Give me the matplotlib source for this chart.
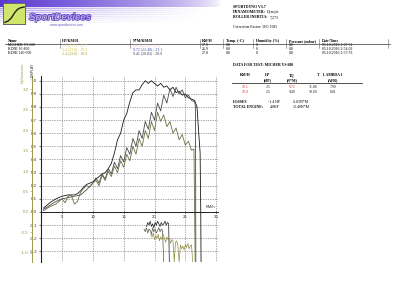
import numpy as np
import matplotlib
matplotlib.use('Agg')
import matplotlib.pyplot as plt
from matplotlib import patheffects as pe
from matplotlib.lines import Line2D
from matplotlib.patches import Rectangle

# ---------------- data ----------------
run_names = ["MICHER VS 600", "KDNI 16-830", "KDNI 140-900"]
hp_text = ["2.5 (23.5) : 18.7", "2.4 (23.9) : 19.1", "2.4 (23.8) : 18.9"]
nm_text = ["10.0 (22.2) : 23.1", "9.72 (22.49) : 23.1", "9.41 (20.83) : 20.9"]
kmh_max = ["27.9", "26.9", "27.0"]
temps = ["0.0", "0.0", "0.0"]
humid = ["0", "0", "0"]
press = ["0.0", "0.0", "0.0"]
dates = ["05.10.2016 2:07:51", "05.10.2016 2:54:02", "05.10.2016 2:57:33"]

x_ticks = [5, 10, 15, 20, 25, 30]
display_ticks = [-0.3, -0.2, -0.1, 0.0, 0.1, 0.2, 0.3, 0.4, 0.5, 0.6, 0.7, 0.8, 0.9, 1.0]
hp_ticks = [-1.0, -0.5, 0.0, 0.5, 1.0, 1.5, 2.0, 2.5, 3.0]

c1_x = [2.0, 3, 4, 5, 6, 7, 7.5, 8, 8.5, 9, 9.5, 10, 10.5, 11, 11.5, 12, 12.5, 13, 13.5, 14,
        14.5, 15, 15.5, 16, 16.5, 17, 17.5, 18, 18.5, 19, 19.5, 20, 20.5, 21, 21.5, 22, 22.5,
        23, 23.5, 24, 24.5, 25, 25.5, 26, 26.5, 26.9, 27.1, 27.4, 27.5, 27.55]
c1_y = [0.03, 0.07, 0.10, 0.12, 0.13, 0.13, 0.14, 0.16, 0.19, 0.21, 0.22, 0.23, 0.25, 0.27,
        0.29, 0.30, 0.33, 0.37, 0.45, 0.55, 0.60, 0.70, 0.75, 0.84, 0.91, 0.93, 0.93, 0.97,
        1.00, 0.98, 1.00, 0.98, 0.96, 0.98, 0.95, 0.96, 0.93, 0.95, 0.91, 0.92, 0.89, 0.90,
        0.87, 0.86, 0.85, 0.80, 0.65, 0.45, 0.0, -0.38]

c2_x = [2.0, 3, 4, 5, 6, 7, 8, 9, 10, 10.5, 11, 11.5, 12, 12.5, 13, 13.5, 14, 14.5, 15, 15.5,
        16, 16.5, 17, 17.5, 18, 18.5, 19, 19.5, 20, 20.5, 21, 21.5, 22, 22.5, 23, 23.5, 24,
        24.5, 25, 25.5, 26, 26.5, 26.65, 26.7]
c2_y = [0.02, 0.05, 0.08, 0.10, 0.11, 0.12, 0.13, 0.17, 0.22, 0.26, 0.22, 0.29, 0.25, 0.33,
        0.29, 0.38, 0.33, 0.43, 0.38, 0.49, 0.44, 0.56, 0.50, 0.62, 0.56, 0.69, 0.63, 0.76,
        0.70, 0.83, 0.77, 0.89, 0.83, 0.94, 0.88, 0.95, 0.90, 0.93, 0.87, 0.89, 0.85, 0.84,
        0.80, -0.38]

c3_x = [2.0, 3, 4, 5, 5.5, 6, 6.5, 7, 7.5, 8, 8.5, 9, 9.5, 10, 10.5, 11, 11.5, 12, 12.5, 13,
        13.5, 14, 14.5, 15, 15.5, 16, 16.5, 17, 17.5, 18, 18.5, 19, 19.5, 20, 20.5, 21, 21.5,
        22, 22.5, 23, 23.5, 24, 24.5, 25, 25.5, 26, 26.4, 26.6]
c3_y = [0.01, 0.04, 0.06, 0.10, 0.07, 0.12, 0.13, 0.06, 0.08, 0.15, 0.18, 0.20, 0.19, 0.22,
        0.24, 0.20, 0.28, 0.24, 0.31, 0.27, 0.35, 0.30, 0.39, 0.34, 0.44, 0.39, 0.50, 0.44,
        0.56, 0.50, 0.62, 0.56, 0.69, 0.62, 0.76, 0.69, 0.74, 0.65, 0.69, 0.60, 0.64, 0.55,
        0.59, 0.51, 0.54, 0.47, 0.48, -0.38]

l1_x = [18.7, 18.9, 19.1, 19.3, 19.5, 19.7, 19.9, 20.1, 20.3, 20.5, 20.7, 20.9, 21.1, 21.3,
        21.5, 21.7, 21.9, 22.1, 22.3, 22.4]
l1_y = [-0.11, -0.08, -0.10, -0.07, -0.11, -0.09, -0.12, -0.08, -0.10, -0.07, -0.09, -0.11,
        -0.08, -0.10, -0.09, -0.07, -0.10, -0.08, -0.09, -0.38]

l2_x = [18.3, 18.5, 18.7, 18.9, 19.1, 19.3, 19.5, 19.7, 19.9, 20.1, 20.3, 20.5, 20.7, 20.9,
        21.1, 21.3, 21.5]
l2_y = [-0.13, -0.15, -0.12, -0.16, -0.13, -0.14, -0.17, -0.12, -0.15, -0.13, -0.16, -0.14,
        -0.12, -0.15, -0.13, -0.14, -0.38]

l3_x = [19.4, 19.6, 19.8, 20.0, 20.2, 20.4, 20.6, 20.8, 21.0, 21.2, 21.4, 21.6, 21.8, 22.0,
        22.2, 22.4, 22.6, 22.8, 23.0, 23.2, 23.4, 23.6, 23.8, 24.0, 24.2, 24.4, 24.6, 24.8,
        25.0, 25.2, 25.4, 25.6, 25.8, 26.0, 26.2]
l3_y = [-0.17, -0.19, -0.16, -0.21, -0.18, -0.20, -0.17, -0.22, -0.19, -0.21, -0.17, -0.20,
        -0.23, -0.19, -0.21, -0.20, -0.24, -0.21, -0.22, -0.38, -0.23, -0.22, -0.26, -0.38,
        -0.25, -0.28, -0.26, -0.29, -0.25, -0.27, -0.24, -0.28, -0.26, -0.25, -0.38]

# ---------------- figure ----------------
W, H = 400, 282
fig = plt.figure(figsize=(4, 2.82), dpi=100)
fig.patch.set_facecolor('white')

def fx(px):
    return px / W

def fy(py):
    return 1 - py / H

serif = 'Liberation Serif'
sans = 'Liberation Sans'
FS = 2.8

# banner gradient
bax = fig.add_axes([0, fy(25), 230 / W, 25 / H])
img = np.ones((25, 230, 4))
img[..., 0] = 0.36
img[..., 1] = 0.22
img[..., 2] = 0.82
xs = np.arange(230)
alpha = np.zeros((25, 230))
for r in range(25):
    if r < 7:
        a = np.clip(1 - xs / 220, 0, 1) ** 0.6
    else:
        a = np.clip(1 - xs / 205, 0, 1) * (0.55 if r % 2 == 0 else 0.2) * max(0, 1 - (r - 7) / 17)
    alpha[r] = a
img[..., 3] = alpha
bax.imshow(img, aspect='auto', interpolation='bilinear')
bax.axis('off')

# logo square
lax = fig.add_axes([fx(3), fy(25), 23 / W, 22 / H])
lax.set_xlim(0, 1)
lax.set_ylim(0, 1)
lax.add_patch(Rectangle((0, 0), 1, 1, facecolor='#cfe56c', edgecolor='#555566', lw=1.2))
lax.plot([0.08, 0.22, 0.36, 0.5, 0.62, 0.75, 0.92], [0.12, 0.18, 0.32, 0.55, 0.7, 0.78, 0.82],
         color='#222222', lw=1.0)
lax.axis('off')

t = fig.text(fx(29), fy(17), 'SportDevices', fontsize=7, fontfamily=sans, fontweight='bold',
             fontstyle='italic', color='#b8a8f0', va='center', ha='left')
t.set_path_effects([pe.Stroke(linewidth=1.0, foreground='#5a3cb8'), pe.Normal()])
fig.text(fx(50), fy(25), 'www.sportdevices.com', fontsize=2.3, fontfamily=sans,
         color='#6a50c0', va='center', ha='left')

# header text right
fig.text(fx(233), fy(6.7), 'SPORTDYNO V3.7', fontsize=FS, fontfamily=serif, fontweight='bold', va='center')
fig.text(fx(233), fy(12.3), 'DYNAMOMETER:', fontsize=FS, fontfamily=serif, fontweight='bold', va='center')
fig.text(fx(267), fy(12.3), 'Dynojet', fontsize=FS, fontfamily=serif, va='center')
fig.text(fx(233), fy(17.5), 'ROLLER INERTIA:', fontsize=FS, fontfamily=serif, fontweight='bold', va='center')
fig.text(fx(270), fy(17.5), '7,273', fontsize=FS, fontfamily=serif, va='center')
fig.text(fx(233), fy(27), 'Correction Factor: ISO 1585', fontsize=FS, fontfamily=serif, va='center')

# runs table
cols_x = [8, 62, 133, 202, 226, 256, 289, 322]
headers = ['Name', 'HP/KM/H', 'N*M/KM/H', 'KM/H', 'Temp. (ºC)', 'Humidity (%)', 'Pressure (mbar)', 'Date/Time']
for cx, h in zip(cols_x, headers):
    fig.text(fx(cx), fy(41.3), h, fontsize=FS, fontfamily=serif, fontweight='bold', va='center')
fig.add_artist(Line2D([fx(5), fx(390)], [fy(43.8), fy(43.8)], color='#333333', lw=0.5))
for sx in [60, 130, 200, 223, 253, 286, 319, 388]:
    fig.add_artist(Line2D([fx(sx), fx(sx)], [fy(39), fy(48)], color='#666666', lw=0.4))
hp_cols = ['#e3da92', '#d8c428', '#a39434']
nm_cols = ['#e8b4cc', '#3440a4', '#33334d']
row_y = [45.5, 49.5, 53.5]
for i in range(3):
    yy = fy(row_y[i])
    fig.text(fx(cols_x[0]), yy, run_names[i], fontsize=FS, fontfamily=serif, va='center')
    fig.text(fx(cols_x[1]), yy, hp_text[i], fontsize=FS, fontfamily=serif, va='center', color=hp_cols[i])
    fig.text(fx(cols_x[2]), yy, nm_text[i], fontsize=FS, fontfamily=serif, va='center', color=nm_cols[i])
    fig.text(fx(cols_x[3]), yy, kmh_max[i], fontsize=FS, fontfamily=serif, va='center')
    fig.text(fx(cols_x[4]), yy, temps[i], fontsize=FS, fontfamily=serif, va='center')
    fig.text(fx(cols_x[5]), yy, humid[i], fontsize=FS, fontfamily=serif, va='center')
    fig.text(fx(cols_x[6]), yy, press[i], fontsize=FS, fontfamily=serif, va='center')
    fig.text(fx(cols_x[7]), yy, dates[i], fontsize=FS, fontfamily=serif, va='center')

# data for test table
fig.text(fx(233), fy(65), 'DATA FOR TEST: MICHER VS 600', fontsize=FS, fontfamily=serif,
         fontweight='bold', va='center')
for cx, a, b in [(245, 'KM/H', ''), (268, 'HP', '(HP)'), (292, 'TQ', '(N*M)'), (333, 'LAMBDA 1', '(AFR)')]:
    fig.text(fx(cx), fy(75.5), a, fontsize=FS, fontfamily=serif, fontweight='bold', ha='center', va='center')
    if b:
        fig.text(fx(cx), fy(80), b, fontsize=FS, fontfamily=serif, fontweight='bold', ha='center', va='center')
fig.text(fx(318), fy(75.5), 'T', fontsize=FS, fontfamily=serif, fontweight='bold', ha='center', va='center')
fig.add_artist(Line2D([fx(232), fx(362)], [fy(83), fy(83)], color='#333333', lw=0.6))
test_rows = [["23.1", "2.5", "9.72", "11.88", "7.99"], ["23.9", "2.5", "9.49", "10.00", "8.01"]]
test_cols = [['#c03030', '#222222', '#c03030', '#222222', '#222222'],
             ['#c03030', '#222222', '#222222', '#222222', '#222222']]
for r, (vals, cl) in enumerate(zip(test_rows, test_cols)):
    yy = fy(87.5 + 4.5 * r)
    for cx, v, c in zip([245, 268, 292, 313, 333], vals, cl):
        fig.text(fx(cx), yy, v, fontsize=FS, fontfamily=serif, ha='center', va='center', color=c)
fig.text(fx(233), fy(102), 'LOSSES', fontsize=FS, fontfamily=serif, fontweight='bold', va='center')
fig.text(fx(268), fy(102), '-1.4 HP', fontsize=FS, fontfamily=serif, va='center')
fig.text(fx(293), fy(102), '-2.83N*M', fontsize=FS, fontfamily=serif, va='center')
fig.text(fx(233), fy(107), 'TOTAL ENGINE:', fontsize=FS, fontfamily=serif, fontweight='bold', va='center')
fig.text(fx(270), fy(107), '4.0HP', fontsize=FS, fontfamily=serif, va='center')
fig.text(fx(293), fy(107), '12.40N*M', fontsize=FS, fontfamily=serif, va='center')

# ---------------- main chart ----------------
y_bot, y_top = -0.381, 1.036
ax = fig.add_axes([fx(40.7), fy(262), (218 - 40.7) / W, (262 - 76) / H])
ax.set_xlim(1.54, 30.3)
ax.set_ylim(y_bot, y_top)
ax.set_facecolor('none')
ax.set_xticks(x_ticks)
ax.set_yticks(display_ticks)
ax.set_yticklabels([f'{v:.1f}' for v in display_ticks])
ax.grid(True, linestyle=(0, (1, 1.5)), color='#555555', lw=0.5)
for s in ['top', 'right']:
    ax.spines[s].set_visible(False)
ax.spines['left'].set_color('#222222')
ax.spines['left'].set_linewidth(0.8)
ax.spines['bottom'].set_position(('data', 0))
ax.spines['bottom'].set_color('#222222')
ax.spines['bottom'].set_linewidth(0.7)
ax.tick_params(axis='x', labelsize=3.2, length=2, width=0.5, pad=1, direction='inout', colors='#333333')
ax.tick_params(axis='y', labelsize=3.2, length=1.5, width=0.5, pad=1, colors='#333333')
for lab in ax.get_xticklabels() + ax.get_yticklabels():
    lab.set_fontfamily(sans)

ax.plot(c1_x, c1_y, color='#1a1a1a', lw=0.6)
ax.plot(c2_x, c2_y, color='#4a4a44', lw=0.6)
ax.plot(c3_x, c3_y, color='#6e6e48', lw=0.6)
ax.plot(l1_x, l1_y, color='#1a1a1a', lw=0.5)
ax.plot(l2_x, l2_y, color='#55554a', lw=0.5)
ax.plot(l3_x, l3_y, color='#8e8e40', lw=0.5)
ax.text(29.0, 0.035, 'KM/h', fontsize=3.0, fontfamily=sans, ha='center', va='center', color='#333333')

# hp axis
k = 131.3 / 41.0
ax2 = fig.add_axes(ax.get_position())
ax2.set_facecolor('none')
ax2.set_ylim(y_bot * k, y_top * k)
ax2.set_xticks([])
ax2.set_yticks(hp_ticks)
ax2.set_yticklabels([f'{v:.1f}' for v in hp_ticks])
for s in ['top', 'right', 'bottom']:
    ax2.spines[s].set_visible(False)
ax2.spines['left'].set_position(('outward', 6.5))
ax2.spines['left'].set_color('#9a9a48')
ax2.spines['left'].set_linewidth(0.7)
ax2.tick_params(axis='y', labelsize=3.2, length=1.2, width=0.4, pad=1, colors='#9a9a48')
for lab in ax2.get_yticklabels():
    lab.set_fontfamily(sans)

fig.text(fx(22.7), fy(73), 'Hp/measure', fontsize=2.7, fontfamily=sans, rotation=90,
         color='#9a9a48', ha='center', va='center')
fig.text(fx(33), fy(70), 'DISPLAY', fontsize=2.5, fontfamily=sans, rotation=90,
         color='#333333', ha='center', va='center')

fig.savefig('out.png', dpi=100)
